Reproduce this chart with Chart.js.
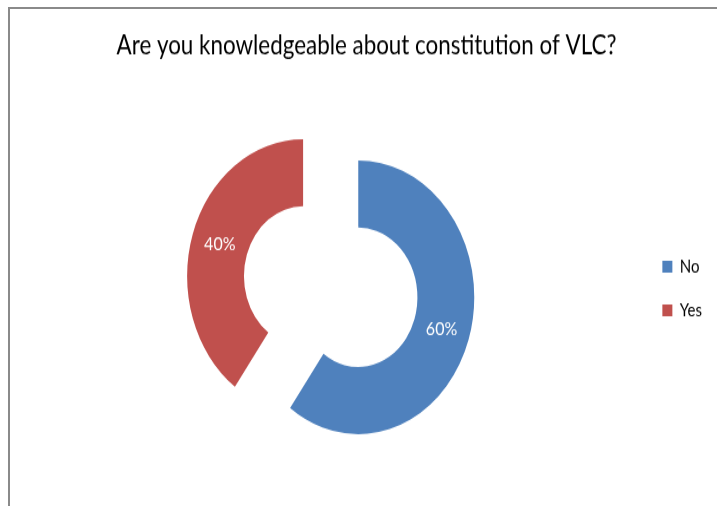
<!DOCTYPE html>
<html>
<head>
<meta charset="utf-8">
<script src="https://cdn.jsdelivr.net/npm/chart.js@4/dist/chart.umd.min.js"></script>
<style>
  html, body { margin: 0; padding: 0; background: #fff; }
  body { width: 717px; height: 506px; overflow: hidden; position: relative; }
  #frame {
    position: absolute; left: 8px; top: 7px; width: 730px; height: 520px;
    border-top: 2px solid #8a8a8a; border-left: 2px solid #8a8a8a;
  }
  /* the reference picture is stretched vertically, so the chart is too */
  #wrap {
    position: absolute; left: 0; top: 0; width: 717px; height: 429px;
    transform: scaleY(1.18); transform-origin: 0 0;
  }
</style>
</head>
<body>
<div id="frame"></div>
<div id="wrap"><canvas id="chart" width="717" height="429"></canvas></div>
<script>
const categories = ['No', 'Yes'];
const values = [60, 40];
const sliceColors = ['#4F81BD', '#C0504D'];
const chartTitle = 'Are you knowledgeable about constitution of VLC?';

const FONT = 'Lato, "Open Sans", sans-serif';
const EXPLODE = 29; // distance each slice is pulled out from the centre

const total = values.reduce((a, b) => a + b, 0);

// pull every slice out along its middle angle (Chart.js' own offset also grows the radius)
const explode = {
  id: 'explode',
  afterDatasetsUpdate(chart) {
    chart.getDatasetMeta(0).data.forEach(arc => {
      const mid = (arc.startAngle + arc.endAngle) / 2;
      arc.x += Math.cos(mid) * EXPLODE;
      arc.y += Math.sin(mid) * EXPLODE;
    });
  }
};

const percentLabels = {
  id: 'percentLabels',
  afterDatasetsDraw(chart) {
    const ctx = chart.ctx;
    const meta = chart.getDatasetMeta(0);
    ctx.save();
    ctx.fillStyle = '#fff';
    ctx.font = '16px ' + FONT;
    ctx.textAlign = 'center';
    ctx.textBaseline = 'middle';
    meta.data.forEach((arc, i) => {
      const mid = (arc.startAngle + arc.endAngle) / 2;
      const r = (arc.innerRadius + arc.outerRadius) / 2;
      ctx.fillText(Math.round(values[i] / total * 100) + '%',
        arc.x + Math.cos(mid) * r, arc.y + Math.sin(mid) * r);
    });
    ctx.restore();
  }
};

new Chart(document.getElementById('chart').getContext('2d'), {
  type: 'doughnut',
  data: {
    labels: categories,
    datasets: [{
      data: values,
      backgroundColor: sliceColors,
      borderWidth: 0,
      hoverOffset: 0
    }]
  },
  options: {
    responsive: false,
    animation: false,
    radius: 116,
    cutout: '51%',
    layout: { padding: { left: 21, right: 5, top: 0, bottom: 0 } },
    plugins: {
      title: {
        display: true,
        text: chartTitle,
        color: '#000',
        font: { family: FONT, size: 22.4, weight: 'normal' },
        padding: { top: 25, bottom: 5 }
      },
      legend: {
        position: 'right',
        title: { display: true, text: '', padding: 0, font: { size: 50 } },
        labels: {
          color: '#000',
          font: { family: FONT, size: 15 },
          boxWidth: 10,
          boxHeight: 10,
          padding: 22
        }
      },
      tooltip: { enabled: false }
    }
  },
  plugins: [explode, percentLabels]
});
</script>
</body>
</html>
